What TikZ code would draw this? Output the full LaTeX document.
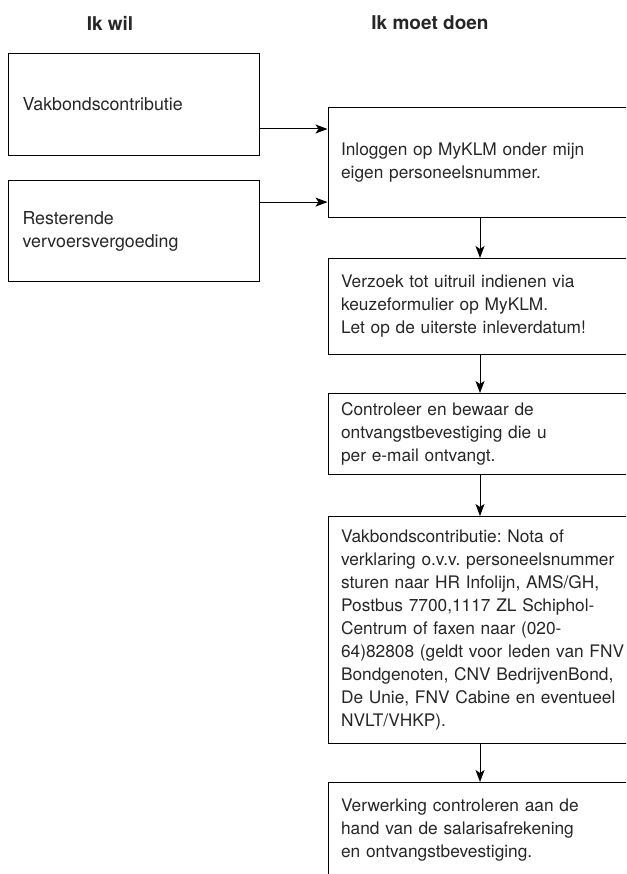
\documentclass[tikz,border=0pt]{standalone}
\usepackage{fontspec}
\setmainfont{TeX Gyre Heros}
\usetikzlibrary{arrows.meta}
\definecolor{txt}{HTML}{262626}
\frenchspacing
\begin{document}
\begin{tikzpicture}[x=1pt,y=-1pt,
  box/.style={draw=black, line width=1.1pt, anchor=north west, inner xsep=14pt, inner ysep=0pt,
    align=left, font=\fontsize{17.8}{23}\selectfont, text=txt},
  lbox/.style={box, text width=223pt},
  rbox/.style={box, text width=330pt, inner xsep=13pt, font=\fontsize{17.3}{23}\selectfont},
  arr/.style={-{Stealth[length=12pt,width=9pt,inset=3pt]}, line width=1pt, draw=black},
  head/.style={font=\fontsize{19}{23}\selectfont\bfseries, text=txt}]
\useasboundingbox (0,0) rectangle (626,874);
\clip (0,0) rectangle (626,874);

\node[head] (h1) at (110,23) {Ik wil};
\node[head] (h2) at (430,23) {Ik moet doen};

\node[lbox, minimum height=102pt] (A) at (8,53) {Vakbondscontributie};
\node[lbox, minimum height=101pt] (B) at (8,180) {Resterende\\vervoersvergoeding};

\node[rbox, minimum height=110pt] (R1) at (327.5,107) {Inloggen op MyKLM onder mijn\\eigen personeelsnummer.};
\node[rbox, minimum height=96pt] (R2) at (327.5,258) {Verzoek tot uitruil indienen via\\keuzeformulier op MyKLM.\\Let op de uiterste inleverdatum!};
\node[rbox, minimum height=81pt] (R3) at (327.5,393) {Controleer en bewaar de\\ontvangstbevestiging die u\\per e-mail ontvangt.};
\node[rbox, minimum height=227pt] (R4) at (327.5,516) {Vakbondscontributie: Nota of\\verklaring o.v.v. personeelsnummer\\sturen naar HR Infolijn, AMS/GH,\\Postbus 7700,1117 ZL Schiphol-\\Centrum of faxen naar (020-\\64)82808 (geldt voor leden van FNV\\Bondgenoten, CNV BedrijvenBond,\\De Unie, FNV Cabine en eventueel\\NVLT/VHKP).};
\node[rbox, minimum height=96pt] (R5) at (327.5,782) {Verwerking controleren aan de\\hand van de salarisafrekening\\en ontvangstbevestiging.};

\coordinate (ia) at ([yshift=-22pt]R1.north west);
\coordinate (ib) at ([yshift=16pt]R1.south west);
\draw[arr] (A.east |- ia) -- (ia);
\draw[arr] (B.east |- ib) -- (ib);

\coordinate (v1) at ([xshift=152.5pt]R1.south west);
\coordinate (v2) at ([xshift=152.5pt]R2.south west);
\coordinate (v3) at ([xshift=152.5pt]R3.south west);
\coordinate (v4) at ([xshift=152.5pt]R4.south west);
\draw[arr] (v1) -- (v1 |- R2.north);
\draw[arr] (v2) -- (v2 |- R3.north);
\draw[arr] (v3) -- (v3 |- R4.north);
\draw[arr] (v4) -- (v4 |- R5.north);
\end{tikzpicture}
\end{document}
